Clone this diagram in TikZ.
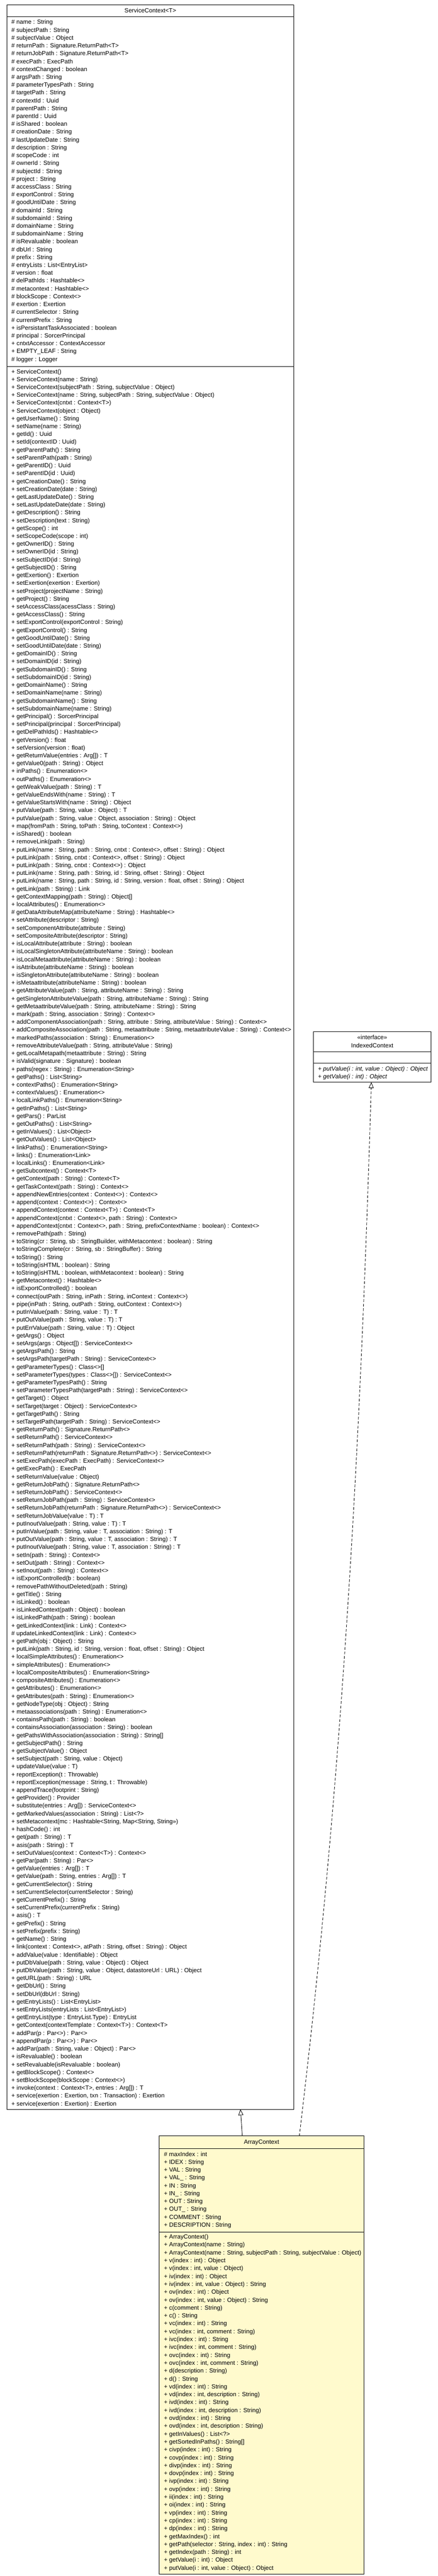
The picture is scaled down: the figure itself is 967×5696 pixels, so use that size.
\documentclass[tikz,border=0pt]{standalone}
\usepackage{fontspec}
\setmainfont{Liberation Sans}
\usetikzlibrary{arrows.meta,calc}
\definecolor{acfill}{HTML}{FFFACD}
\begin{document}
\begin{tikzpicture}[x=1pt,y=-1pt,
  umlbox/.style={draw=black, line width=1.2pt, inner sep=0pt, outer sep=0pt, anchor=north west},
  sepline/.style={draw=black, line width=1.2pt},
  txt/.style={anchor=base west, inner sep=0pt, font=\fontsize{13.3}{16}\selectfont},
  ttl/.style={anchor=base, inner sep=0pt, font=\fontsize{13.3}{16}\selectfont},
  itxt/.style={txt, font=\fontsize{13.3}{16}\selectfont\itshape},
  inh/.style={draw=black, line width=1pt, -{Triangle[open, length=13pt, width=11pt]}},
  real/.style={draw=black, line width=1pt, dash pattern=on 6pt off 4pt, -{Triangle[open, length=13pt, width=11pt]}}]
\useasboundingbox (0,0) rectangle (967,5696);
\fill[white] (0,0) rectangle (967,5696);

% ---------------- ServiceContext<T> ----------------
\node[umlbox, fill=white, minimum width=634pt, minimum height=4653pt] (sc) at (15,11) {};
\draw[sepline] (sc.west |- 0,37) -- (sc.east |- 0,37);
\draw[sepline] (sc.west |- 0,810) -- (sc.east |- 0,810);
\node[ttl] (sctitle) at (332,28) {ServiceContext<T>};

\foreach \t [count=\i from 0] in {
{\# name : String},
{\# subjectPath : String},
{\# subjectValue : Object},
{\# returnPath : Signature.ReturnPath<T>},
{\# returnJobPath : Signature.ReturnPath<T>},
{\# execPath : ExecPath},
{\# contextChanged : boolean},
{\# argsPath : String},
{\# parameterTypesPath : String},
{\# targetPath : String},
{\# contextId : Uuid},
{\# parentPath : String},
{\# parentId : Uuid},
{\# isShared : boolean},
{\# creationDate : String},
{\# lastUpdateDate : String},
{\# description : String},
{\# scopeCode : int},
{\# ownerId : String},
{\# subjectId : String},
{\# project : String},
{\# accessClass : String},
{\# exportControl : String},
{\# goodUntilDate : String},
{\# domainId : String},
{\# subdomainId : String},
{\# domainName : String},
{\# subdomainName : String},
{\# isRevaluable : boolean},
{\# dbUrl : String},
{\# prefix : String},
{\# entryLists : List<EntryList>},
{\# version : float},
{\# delPathIds : Hashtable<>},
{\# metacontext : Hashtable<>},
{\# blockScope : Context<>},
{\# exertion : Exertion},
{\# currentSelector : String},
{\# currentPrefix : String},
{+ isPersistantTaskAssociated : boolean},
{\# principal : SorcerPrincipal},
{+ cntxtAccessor : ContextAccessor},
{+ EMPTY\_LEAF : String},
{\# logger : Logger}}
  \node[txt] (sca\i) at (25,{53.5+\i*17.33}) {\t};

\foreach \t [count=\i from 0] in {
{+ ServiceContext()},
{+ ServiceContext(name : String)},
{+ ServiceContext(subjectPath : String, subjectValue : Object)},
{+ ServiceContext(name : String, subjectPath : String, subjectValue : Object)},
{+ ServiceContext(cntxt : Context<T>)},
{+ ServiceContext(object : Object)},
{+ getUserName() : String},
{+ setName(name : String)},
{+ getId() : Uuid},
{+ setId(contextID : Uuid)},
{+ getParentPath() : String},
{+ setParentPath(path : String)},
{+ getParentID() : Uuid},
{+ setParentID(id : Uuid)},
{+ getCreationDate() : String},
{+ setCreationDate(date : String)},
{+ getLastUpdateDate() : String},
{+ setLastUpdateDate(date : String)},
{+ getDescription() : String},
{+ setDescription(text : String)},
{+ getScope() : int},
{+ setScopeCode(scope : int)},
{+ getOwnerID() : String},
{+ setOwnerID(id : String)},
{+ setSubjectID(id : String)},
{+ getSubjectID() : String},
{+ getExertion() : Exertion},
{+ setExertion(exertion : Exertion)},
{+ setProject(projectName : String)},
{+ getProject() : String},
{+ setAccessClass(acessClass : String)},
{+ getAccessClass() : String},
{+ setExportControl(exportControl : String)},
{+ getExportControl() : String},
{+ getGoodUntilDate() : String},
{+ setGoodUntilDate(date : String)},
{+ getDomainID() : String},
{+ setDomainID(id : String)},
{+ getSubdomainID() : String},
{+ setSubdomainID(id : String)},
{+ getDomainName() : String},
{+ setDomainName(name : String)},
{+ getSubdomainName() : String},
{+ setSubdomainName(name : String)},
{+ getPrincipal() : SorcerPrincipal},
{+ setPrincipal(principal : SorcerPrincipal)},
{+ getDelPathIds() : Hashtable<>},
{+ getVersion() : float},
{+ setVersion(version : float)},
{+ getReturnValue(entries : Arg[]) : T},
{+ getValue0(path : String) : Object},
{+ inPaths() : Enumeration<>},
{+ outPaths() : Enumeration<>},
{+ getWeakValue(path : String) : T},
{+ getValueEndsWith(name : String) : T},
{+ getValueStartsWith(name : String) : Object},
{+ putValue(path : String, value : Object) : T},
{+ putValue(path : String, value : Object, association : String) : Object},
{+ map(fromPath : String, toPath : String, toContext : Context<>)},
{+ isShared() : boolean},
{+ removeLink(path : String)},
{+ putLink(name : String, path : String, cntxt : Context<>, offset : String) : Object},
{+ putLink(path : String, cntxt : Context<>, offset : String) : Object},
{+ putLink(path : String, cntxt : Context<>) : Object},
{+ putLink(name : String, path : String, id : String, offset : String) : Object},
{+ putLink(name : String, path : String, id : String, version : float, offset : String) : Object},
{+ getLink(path : String) : Link},
{+ getContextMapping(path : String) : Object[]},
{+ localAttributes() : Enumeration<>},
{\# getDataAttributeMap(attributeName : String) : Hashtable<>},
{+ setAttribute(descriptor : String)},
{+ setComponentAttribute(attribute : String)},
{+ setCompositeAttribute(descriptor : String)},
{+ isLocalAttribute(attribute : String) : boolean},
{+ isLocalSingletonAttribute(attributeName : String) : boolean},
{+ isLocalMetaattribute(attributeName : String) : boolean},
{+ isAttribute(attributeName : String) : boolean},
{+ isSingletonAttribute(attributeName : String) : boolean},
{+ isMetaattribute(attributeName : String) : boolean},
{+ getAttributeValue(path : String, attributeName : String) : String},
{+ getSingletonAttributeValue(path : String, attributeName : String) : String},
{+ getMetaattributeValue(path : String, attributeName : String) : String},
{+ mark(path : String, association : String) : Context<>},
{+ addComponentAssociation(path : String, attribute : String, attributeValue : String) : Context<>},
{+ addCompositeAssociation(path : String, metaattribute : String, metaattributeValue : String) : Context<>},
{+ markedPaths(association : String) : Enumeration<>},
{+ removeAttributeValue(path : String, attributeValue : String)},
{+ getLocalMetapath(metaattribute : String) : String},
{+ isValid(signature : Signature) : boolean},
{+ paths(regex : String) : Enumeration<String>},
{+ getPaths() : List<String>},
{+ contextPaths() : Enumeration<String>},
{+ contextValues() : Enumeration<>},
{+ localLinkPaths() : Enumeration<String>},
{+ getInPaths() : List<String>},
{+ getPars() : ParList},
{+ getOutPaths() : List<String>},
{+ getInValues() : List<Object>},
{+ getOutValues() : List<Object>},
{+ linkPaths() : Enumeration<String>},
{+ links() : Enumeration<Link>},
{+ localLinks() : Enumeration<Link>},
{+ getSubcontext() : Context<T>},
{+ getContext(path : String) : Context<T>},
{+ getTaskContext(path : String) : Context<>},
{+ appendNewEntries(context : Context<>) : Context<>},
{+ append(context : Context<>) : Context<>},
{+ appendContext(context : Context<T>) : Context<T>},
{+ appendContext(cntxt : Context<>, path : String) : Context<>},
{+ appendContext(cntxt : Context<>, path : String, prefixContextName : boolean) : Context<>},
{+ removePath(path : String)},
{+ toString(cr : String, sb : StringBuilder, withMetacontext : boolean) : String},
{+ toStringComplete(cr : String, sb : StringBuffer) : String},
{+ toString() : String},
{+ toString(isHTML : boolean) : String},
{+ toString(isHTML : boolean, withMetacontext : boolean) : String},
{+ getMetacontext() : Hashtable<>},
{+ isExportControlled() : boolean},
{+ connect(outPath : String, inPath : String, inContext : Context<>)},
{+ pipe(inPath : String, outPath : String, outContext : Context<>)},
{+ putInValue(path : String, value : T) : T},
{+ putOutValue(path : String, value : T) : T},
{+ putErrValue(path : String, value : T) : Object},
{+ getArgs() : Object},
{+ setArgs(args : Object[]) : ServiceContext<>},
{+ getArgsPath() : String},
{+ setArgsPath(targetPath : String) : ServiceContext<>},
{+ getParameterTypes() : Class<>[]},
{+ setParameterTypes(types : Class<>[]) : ServiceContext<>},
{+ getParameterTypesPath() : String},
{+ setParameterTypesPath(targetPath : String) : ServiceContext<>},
{+ getTarget() : Object},
{+ setTarget(target : Object) : ServiceContext<>},
{+ getTargetPath() : String},
{+ setTargetPath(targetPath : String) : ServiceContext<>},
{+ getReturnPath() : Signature.ReturnPath<>},
{+ setReturnPath() : ServiceContext<>},
{+ setReturnPath(path : String) : ServiceContext<>},
{+ setReturnPath(returnPath : Signature.ReturnPath<>) : ServiceContext<>},
{+ setExecPath(execPath : ExecPath) : ServiceContext<>},
{+ getExecPath() : ExecPath},
{+ setReturnValue(value : Object)},
{+ getReturnJobPath() : Signature.ReturnPath<>},
{+ setReturnJobPath() : ServiceContext<>},
{+ setReturnJobPath(path : String) : ServiceContext<>},
{+ setReturnJobPath(returnPath : Signature.ReturnPath<>) : ServiceContext<>},
{+ setReturnJobValue(value : T) : T},
{+ putInoutValue(path : String, value : T) : T},
{+ putInValue(path : String, value : T, association : String) : T},
{+ putOutValue(path : String, value : T, association : String) : T},
{+ putInoutValue(path : String, value : T, association : String) : T},
{+ setIn(path : String) : Context<>},
{+ setOut(path : String) : Context<>},
{+ setInout(path : String) : Context<>},
{+ isExportControlled(b : boolean)},
{+ removePathWithoutDeleted(path : String)},
{+ getTitle() : String},
{+ isLinked() : boolean},
{+ isLinkedContext(path : Object) : boolean},
{+ isLinkedPath(path : String) : boolean},
{+ getLinkedContext(link : Link) : Context<>},
{\# updateLinkedContext(link : Link) : Context<>},
{+ getPath(obj : Object) : String},
{+ putLink(path : String, id : String, version : float, offset : String) : Object},
{+ localSimpleAttributes() : Enumeration<>},
{+ simpleAttributes() : Enumeration<>},
{+ localCompositeAttributes() : Enumeration<String>},
{+ compositeAttributes() : Enumeration<>},
{+ getAttributes() : Enumeration<>},
{+ getAttributes(path : String) : Enumeration<>},
{+ getNodeType(obj : Object) : String},
{+ metaassociations(path : String) : Enumeration<>},
{+ containsPath(path : String) : boolean},
{+ containsAssociation(association : String) : boolean},
{+ getPathsWithAssociation(association : String) : String[]},
{+ getSubjectPath() : String},
{+ getSubjectValue() : Object},
{+ setSubject(path : String, value : Object)},
{+ updateValue(value : T)},
{+ reportException(t : Throwable)},
{+ reportException(message : String, t : Throwable)},
{+ appendTrace(footprint : String)},
{+ getProvider() : Provider},
{+ substitute(entries : Arg[]) : ServiceContext<>},
{+ getMarkedValues(association : String) : List<?>},
{+ setMetacontext(mc : Hashtable<String, Map<String, String>>)},
{+ hashCode() : int},
{+ get(path : String) : T},
{+ asis(path : String) : T},
{+ setOutValues(context : Context<T>) : Context<>},
{+ getPar(path : String) : Par<>},
{+ getValue(entries : Arg[]) : T},
{+ getValue(path : String, entries : Arg[]) : T},
{+ getCurrentSelector() : String},
{+ setCurrentSelector(currentSelector : String)},
{+ getCurrentPrefix() : String},
{+ setCurrentPrefix(currentPrefix : String)},
{+ asis() : T},
{+ getPrefix() : String},
{+ setPrefix(prefix : String)},
{+ getName() : String},
{+ link(context : Context<>, atPath : String, offset : String) : Object},
{+ addValue(value : Identifiable) : Object},
{+ putDbValue(path : String, value : Object) : Object},
{+ putDbValue(path : String, value : Object, datastoreUrl : URL) : Object},
{+ getURL(path : String) : URL},
{+ getDbUrl() : String},
{+ setDbUrl(dbUrl : String)},
{+ getEntryLists() : List<EntryList>},
{+ setEntryLists(entryLists : List<EntryList>)},
{+ getEntryList(type : EntryList.Type) : EntryList},
{+ getContext(contextTemplate : Context<T>) : Context<T>},
{+ addPar(p : Par<>) : Par<>},
{+ appendPar(p : Par<>) : Par<>},
{+ addPar(path : String, value : Object) : Par<>},
{+ isRevaluable() : boolean},
{+ setRevaluable(isRevaluable : boolean)},
{+ getBlockScope() : Context<>},
{+ setBlockScope(blockScope : Context<>)},
{+ invoke(context : Context<T>, entries : Arg[]) : T},
{+ service(exertion : Exertion, txn : Transaction) : Exertion},
{+ service(exertion : Exertion) : Exertion}}
  \node[txt] (scm\i) at (25,{826+\i*17.33}) {\t};

% ---------------- IndexedContext ----------------
\node[umlbox, fill=white, minimum width=260pt, minimum height=112pt] (ic) at (692,2281) {};
\draw[sepline] (ic.west |- 0,2326) -- (ic.east |- 0,2326);
\draw[sepline] (ic.west |- 0,2351) -- (ic.east |- 0,2351);
\node[ttl] (icster) at (822,2298.5) {«interface»};
\node[ttl] (ictitle) at (822,2317) {IndexedContext};
\node[itxt] (icm0) at (702,2367.5) {+ putValue(i : int, value : Object) : Object};
\node[itxt] (icm1) at (702,2384.5) {+ getValue(i : int) : Object};

% ---------------- ArrayContext ----------------
\node[umlbox, fill=acfill, minimum width=453pt, minimum height=969pt] (ac) at (351,4723) {};
\draw[sepline] (ac.west |- 0,4751) -- (ac.east |- 0,4751);
\draw[sepline] (ac.west |- 0,4935) -- (ac.east |- 0,4935);
\node[ttl] (actitle) at (577.5,4741) {ArrayContext};

\foreach \t [count=\i from 0] in {
{\# maxIndex : int},
{+ IDEX : String},
{+ VAL : String},
{+ VAL\_ : String},
{+ IN : String},
{+ IN\_ : String},
{+ OUT : String},
{+ OUT\_ : String},
{+ COMMENT : String},
{+ DESCRIPTION : String}}
  \node[txt] (aca\i) at (362,{4767.5+\i*17.4}) {\t};

\foreach \t [count=\i from 0] in {
{+ ArrayContext()},
{+ ArrayContext(name : String)},
{+ ArrayContext(name : String, subjectPath : String, subjectValue : Object)},
{+ v(index : int) : Object},
{+ v(index : int, value : Object)},
{+ iv(index : int) : Object},
{+ iv(index : int, value : Object) : String},
{+ ov(index : int) : Object},
{+ ov(index : int, value : Object) : String},
{+ c(comment : String)},
{+ c() : String},
{+ vc(index : int) : String},
{+ vc(index : int, comment : String)},
{+ ivc(index : int) : String},
{+ ivc(index : int, comment : String)},
{+ ovc(index : int) : String},
{+ ovc(index : int, comment : String)},
{+ d(description : String)},
{+ d() : String},
{+ vd(index : int) : String},
{+ vd(index : int, description : String)},
{+ ivd(index : int) : String},
{+ ivd(index : int, description : String)},
{+ ovd(index : int) : String},
{+ ovd(index : int, description : String)},
{+ getInValues() : List<?>},
{+ getSortedInPaths() : String[]},
{+ civp(index : int) : String},
{+ covp(index : int) : String},
{+ divp(index : int) : String},
{+ dovp(index : int) : String},
{+ ivp(index : int) : String},
{+ ovp(index : int) : String},
{+ ii(index : int) : String},
{+ oi(index : int) : String},
{+ vp(index : int) : String},
{+ cp(index : int) : String},
{+ dp(index : int) : String},
{+ getMaxIndex() : int},
{+ getPath(selector : String, index : int) : String},
{+ getIndex(path : String) : int},
{+ getValue(i : int) : Object},
{+ putValue(i : int, value : Object) : Object}}
  \node[txt] (acm\i) at (362,{4950.5+\i*17.43}) {\t};

% ---------------- connectors ----------------
\draw[inh] ($(ac.north west)+(184,0)$) -- ($(sc.south west)+(516,0)$);
\draw[real] ($(ac.north west)+(310,0)$) .. controls +(96,-800) and +(-24,800) .. ($(ic.south west)+(128,0)$);
\end{tikzpicture}
\end{document}
